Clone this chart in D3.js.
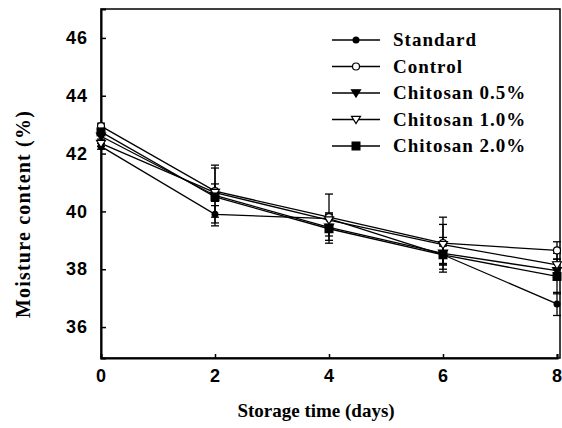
<html>
<head>
<script src="https://d3js.org/d3.v7.min.js"></script>
<style>
body { margin: 0; background: #fff; }
svg { display: block; }
.tick text { font: bold 18px "Liberation Sans", Arial, sans-serif; letter-spacing: 1px; }
.title { font: bold 19px "Liberation Serif", "Times New Roman", serif; }
.ytitle { font: bold 20px "Liberation Serif", "Times New Roman", serif; letter-spacing: 1.2px; }
.leg { font: bold 19px "Liberation Serif", "Times New Roman", serif; letter-spacing: 1px; }
</style>
</head>
<body>
<script>
var days = [0, 2, 4, 6, 8];
var seriesNames = ["Standard", "Control", "Chitosan 0.5%", "Chitosan 1.0%", "Chitosan 2.0%"];
var standard = [42.25, 39.9, 39.75, 38.5, 36.8];
var control = [42.95, 40.7, 39.8, 38.9, 38.65];
var chitosan05 = [42.6, 40.55, 39.45, 38.55, 37.95];
var chitosan10 = [42.35, 40.65, 39.7, 38.85, 38.15];
var chitosan20 = [42.75, 40.5, 39.4, 38.5, 37.75];
var errStandard = [0.1, 0.3, 0.2, 0.3, 0.4];
var errControl = [0.1, 0.9, 0.8, 0.9, 0.3];
var err05 = [0.1, 0.2, 0.3, 0.4, 0.3];
var err10 = [0.1, 0.3, 0.2, 0.7, 0.4];
var err20 = [0.1, 1.0, 0.5, 0.6, 0.6];
var yTicks = [36, 38, 40, 42, 44, 46];

var series = [
  {name: seriesNames[0], v: standard, e: errStandard, mark: "dot"},
  {name: seriesNames[1], v: control, e: errControl, mark: "ocircle"},
  {name: seriesNames[2], v: chitosan05, e: err05, mark: "tri"},
  {name: seriesNames[3], v: chitosan10, e: err10, mark: "otri"},
  {name: seriesNames[4], v: chitosan20, e: err20, mark: "square"}
];

var W = 562, H = 428;
var pLeft = 101, pRight = 560, pTop = 9, pBottom = 358;
var svg = d3.select("body").append("svg").attr("width", W).attr("height", H);

var x = d3.scaleLinear().domain([0, 8]).range([pLeft, 557]);
var y = d3.scaleLinear().domain([34.93, 47]).range([pBottom, pTop]);

// frame
svg.append("rect").attr("x", pLeft).attr("y", pTop)
  .attr("width", pRight - pLeft).attr("height", pBottom - pTop)
  .attr("fill", "none").attr("stroke", "#000").attr("stroke-width", 1.5);

var xAxis = svg.append("g").attr("transform", "translate(0," + pBottom + ")")
  .call(d3.axisBottom(x).tickValues(days).tickSize(-4).tickPadding(11).tickFormat(d3.format("d")));
var yAxis = svg.append("g").attr("transform", "translate(" + pLeft + ",0)")
  .call(d3.axisLeft(y).tickValues(yTicks).tickSize(-5).tickPadding(13).tickFormat(d3.format("d")));
[xAxis, yAxis].forEach(function (a) {
  a.select(".domain").attr("stroke-width", 2);
  a.selectAll(".tick line").attr("stroke-width", 1.5);
});

function drawMark(g, type, cx, cy) {
  if (type === "dot") {
    g.append("circle").attr("cx", cx).attr("cy", cy).attr("r", 3.5).attr("fill", "#000");
  } else if (type === "ocircle") {
    g.append("circle").attr("cx", cx).attr("cy", cy).attr("r", 3.5).attr("fill", "#fff").attr("stroke", "#000").attr("stroke-width", 1.2);
  } else if (type === "tri" || type === "otri") {
    var s = 4.5;
    g.append("path").attr("d", "M" + (cx - s) + "," + (cy - s * 0.7) + "L" + (cx + s) + "," + (cy - s * 0.7) + "L" + cx + "," + (cy + s * 0.9) + "Z")
      .attr("fill", type === "tri" ? "#000" : "#fff").attr("stroke", "#000").attr("stroke-width", 1.2);
  } else {
    g.append("rect").attr("x", cx - 4.5).attr("y", cy - 4.5).attr("width", 9).attr("height", 9).attr("fill", "#000");
  }
}

var line = d3.line().x(function (d, i) { return x(days[i]); }).y(function (d) { return y(d); });
var plot = svg.append("g");

series.forEach(function (s) {
  plot.append("path").datum(s.v).attr("d", line)
    .attr("fill", "none").attr("stroke", "#000").attr("stroke-width", 1.3);
});
series.forEach(function (s) {
  s.v.forEach(function (v, i) {
    var cx = x(days[i]);
    plot.append("line").attr("x1", cx).attr("x2", cx)
      .attr("y1", y(v - s.e[i])).attr("y2", y(v + s.e[i]))
      .attr("stroke", "#000").attr("stroke-width", 1.3);
    [v - s.e[i], v + s.e[i]].forEach(function (t) {
      plot.append("line").attr("x1", cx - 4).attr("x2", cx + 4)
        .attr("y1", y(t)).attr("y2", y(t)).attr("stroke", "#000").attr("stroke-width", 1.3);
    });
  });
});
series.forEach(function (s) {
  s.v.forEach(function (v, i) { drawMark(plot, s.mark, x(days[i]), y(v)); });
});

// legend
var leg = svg.append("g");
series.forEach(function (s, i) {
  var ly = 40 + i * 26.5;
  leg.append("line").attr("x1", 332).attr("x2", 380).attr("y1", ly).attr("y2", ly)
    .attr("stroke", "#000").attr("stroke-width", 1.3);
  drawMark(leg, s.mark, 356, ly);
  leg.append("text").attr("class", "leg").attr("x", 393).attr("y", ly + 6).text(s.name);
});

svg.append("text").attr("class", "title").attr("text-anchor", "middle")
  .attr("x", 316).attr("y", 417).text("Storage time (days)");
svg.append("text").attr("class", "ytitle").attr("text-anchor", "middle")
  .attr("transform", "translate(30,214) rotate(-90)").text("Moisture content (%)");
</script>
</body>
</html>
